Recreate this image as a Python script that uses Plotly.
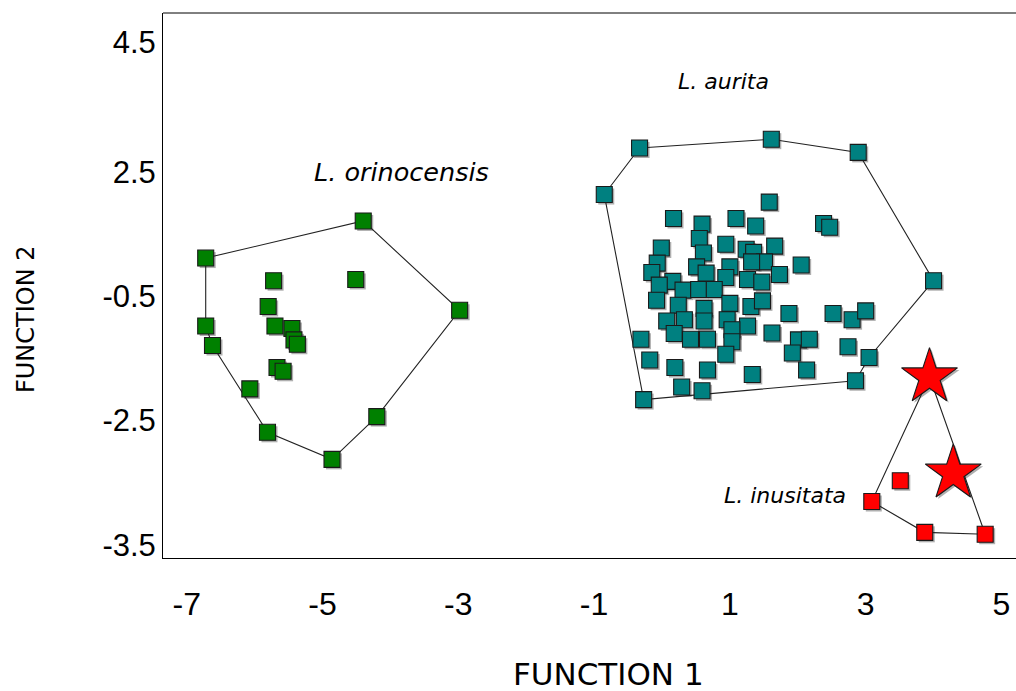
import plotly.graph_objects as go

# ---------------- data ----------------
X_RANGE = [-7.349, 5.214]
Y_RANGE = [-3.708, 4.956]

x_tickvals = [-7, -5, -3, -1, 1, 3, 5]
x_ticktext = ["-7", "-5", "-3", "-1", "1", "3", "5"]
y_tickvals = [4.5, 2.43, 0.46, -1.51, -3.5]
y_ticktext = ["4.5", "2.5", "-0.5", "-2.5", "-3.5"]

# L. orinocensis
orin_x = [-4.40, -6.72, -2.98, -6.72, -6.62, -6.07, -5.81, -4.86, -4.20,
          -5.72, -4.51, -5.80, -5.70, -5.45, -5.42, -5.37, -5.67, -5.58]
orin_y = [1.65, 1.06, 0.23, -0.02, -0.33, -1.02, -1.71, -2.14, -1.46,
          0.70, 0.72, 0.29, -0.02, -0.06, -0.24, -0.31, -0.68, -0.74]
orin_hull = [1, 0, 2, 8, 7, 6, 4, 3, 1]

# L. aurita
aur_x = [-0.33, 1.61, 2.89, 4.00, 3.05, 2.85, -0.27, -0.85,
         1.58, 0.17, 0.59, 1.09, 1.38, 2.38, 2.47, 0.55, -0.01, 0.94,
         1.24, 1.35, 1.66, 0.61, -0.07, 0.51, -0.15, 0.65, 1.00, 1.51,
         1.32, 2.05, 0.94, 1.73, 0.16, -0.04, 0.31, 0.54, 0.77, 1.26,
         1.47, -0.08, 0.24, 0.62, 1.00, 1.31, 1.48, 1.87, 2.52, 2.80,
         3.00, 0.07, 0.33, 0.62, 0.96, 1.26, 1.03, 0.18, 0.42, 0.67,
         1.62, 1.03, 2.01, 2.17, -0.31, 0.94, 1.92, 2.74, -0.18, 0.19,
         0.67, 1.33, 2.13, 0.29, 0.59]
aur_y = [2.81, 2.95, 2.74, 0.70, -0.52, -0.89, -1.19, 2.07,
         1.95, 1.69, 1.60, 1.69, 1.57, 1.61, 1.55, 1.37, 1.22, 1.28,
         1.20, 1.15, 1.25, 1.14, 0.98, 0.92, 0.83, 0.82, 0.92, 1.00,
         1.00, 0.95, 0.75, 0.80, 0.69, 0.63, 0.55, 0.56, 0.56, 0.72,
         0.68, 0.39, 0.31, 0.26, 0.34, 0.29, 0.38, 0.18, 0.18, 0.08,
         0.22, 0.06, 0.08, 0.06, 0.08, -0.02, -0.08, -0.14, -0.23, -0.23,
         -0.13, -0.27, -0.24, -0.23, -0.23, -0.47, -0.45, -0.35, -0.56, -0.68,
         -0.72, -0.79, -0.72, -0.99, -1.05]
aur_hull = [7, 0, 1, 2, 3, 4, 5, 6, 7]

# L. inusitata
inus_x = [3.09, 3.51, 3.87, 4.76, 3.94, 4.29]
inus_y = [-2.81, -2.48, -3.30, -3.33, -0.83, -2.36]
inus_symbol = ["square", "square", "square", "square", "star", "star"]
inus_hull = [4, 3, 2, 0, 4]

species_labels = ["L. orinocensis", "L. aurita", "L. inusitata"]
label_x = [-3.84, 0.90, 1.81]
label_y = [2.43, 3.86, -2.71]

# ---------------- styling ----------------
GREEN = "#008000"
TEAL = "#008080"
RED = "#ff0000"
EDGE = "#1a1a1a"
SHADOW = "rgba(110,110,110,0.55)"
SQ = 16
STAR = 42
PXX = 67.9   # pixels per x unit
PXY = 62.9   # pixels per y unit
SH = 2.0     # shadow offset in pixels

fig = go.Figure()

groups = [
    (orin_x, orin_y, GREEN, ["square"] * len(orin_x), orin_hull),
    (aur_x, aur_y, TEAL, ["square"] * len(aur_x), aur_hull),
    (inus_x, inus_y, RED, inus_symbol, inus_hull),
]

# shadows (base axes, shifted range)
for xs, ys, col, sym, hull in groups:
    sizes = [STAR if s == "star" else SQ for s in sym]
    fig.add_trace(go.Scatter(x=xs, y=ys, mode="markers", xaxis="x", yaxis="y",
                             marker=dict(symbol=sym, size=sizes, color=SHADOW, opacity=1,
                                         line=dict(width=0)),
                             hoverinfo="skip"))

# hull lines
for xs, ys, col, sym, hull in groups:
    fig.add_trace(go.Scatter(x=[xs[i] for i in hull], y=[ys[i] for i in hull],
                             mode="lines", xaxis="x2", yaxis="y2",
                             line=dict(color="#222222", width=1.1),
                             hoverinfo="skip"))

# markers
for xs, ys, col, sym, hull in groups:
    sizes = [STAR if s == "star" else SQ for s in sym]
    fig.add_trace(go.Scatter(x=xs, y=ys, mode="markers", xaxis="x2", yaxis="y2",
                             marker=dict(symbol=sym, size=sizes, color=col, opacity=1,
                                         line=dict(width=1.1, color=EDGE))))

for t, lx, ly, fs in zip(species_labels, label_x, label_y, [25.5, 22, 22]):
    fig.add_annotation(x=lx, y=ly, xref="x2", yref="y2", text=t, showarrow=False,
                       font=dict(family="DejaVu Sans", size=fs, color="black", style="italic"),
                       xanchor="center", yanchor="middle")

# axis titles, positions given in pixels (converted to paper below)
fig.add_annotation(x=608, y=691 - 674, xref="paper", yref="paper", text="FUNCTION 1",
                   showarrow=False, xanchor="center", yanchor="middle",
                   font=dict(family="DejaVu Sans", size=31, color="black"))
fig.add_annotation(x=26, y=691 - 319, xref="paper", yref="paper", text="FUNCTION 2",
                   showarrow=False, textangle=-90, xanchor="center", yanchor="middle",
                   font=dict(family="DejaVu Sans", size=24, color="black"))

axis_common = dict(showgrid=False, zeroline=False)
fig.update_layout(
    width=1016, height=691,
    margin=dict(l=163, r=0, t=13, b=133),
    paper_bgcolor="white", plot_bgcolor="white",
    showlegend=False,
    xaxis=dict(range=[X_RANGE[0] - SH / PXX, X_RANGE[1] - SH / PXX], visible=False, **axis_common),
    yaxis=dict(range=[Y_RANGE[0] + SH / PXY, Y_RANGE[1] + SH / PXY], visible=False, **axis_common),
    xaxis2=dict(range=X_RANGE, overlaying="x", anchor="y2", showline=True, linecolor="black",
                linewidth=1, tickvals=x_tickvals, ticktext=x_ticktext, ticks="outside",
                ticklen=0, ticklabelstandoff=18,
                tickfont=dict(family="Liberation Sans", size=32, color="black"), **axis_common),
    yaxis2=dict(range=Y_RANGE, overlaying="y", anchor="x2", showline=True, linecolor="black",
                linewidth=1, tickvals=y_tickvals, ticktext=y_ticktext, ticks="outside",
                ticklen=0, ticklabelstandoff=0,
                tickfont=dict(family="Liberation Sans", size=31, color="black"), **axis_common),
    shapes=[dict(type="line", xref="paper", yref="paper", x0=0, x1=1, y0=1, y1=1,
                 line=dict(color="black", width=1))],
)
W, H = 1016, 691
L, R, T, B = 163, 0, 13, 133
pw, ph = W - L - R, H - T - B
for a in fig.layout.annotations:
    if a.xref == "paper":
        a.x = (a.x - L) / pw
        a.y = (a.y - B) / ph

fig.write_html("out.html")
